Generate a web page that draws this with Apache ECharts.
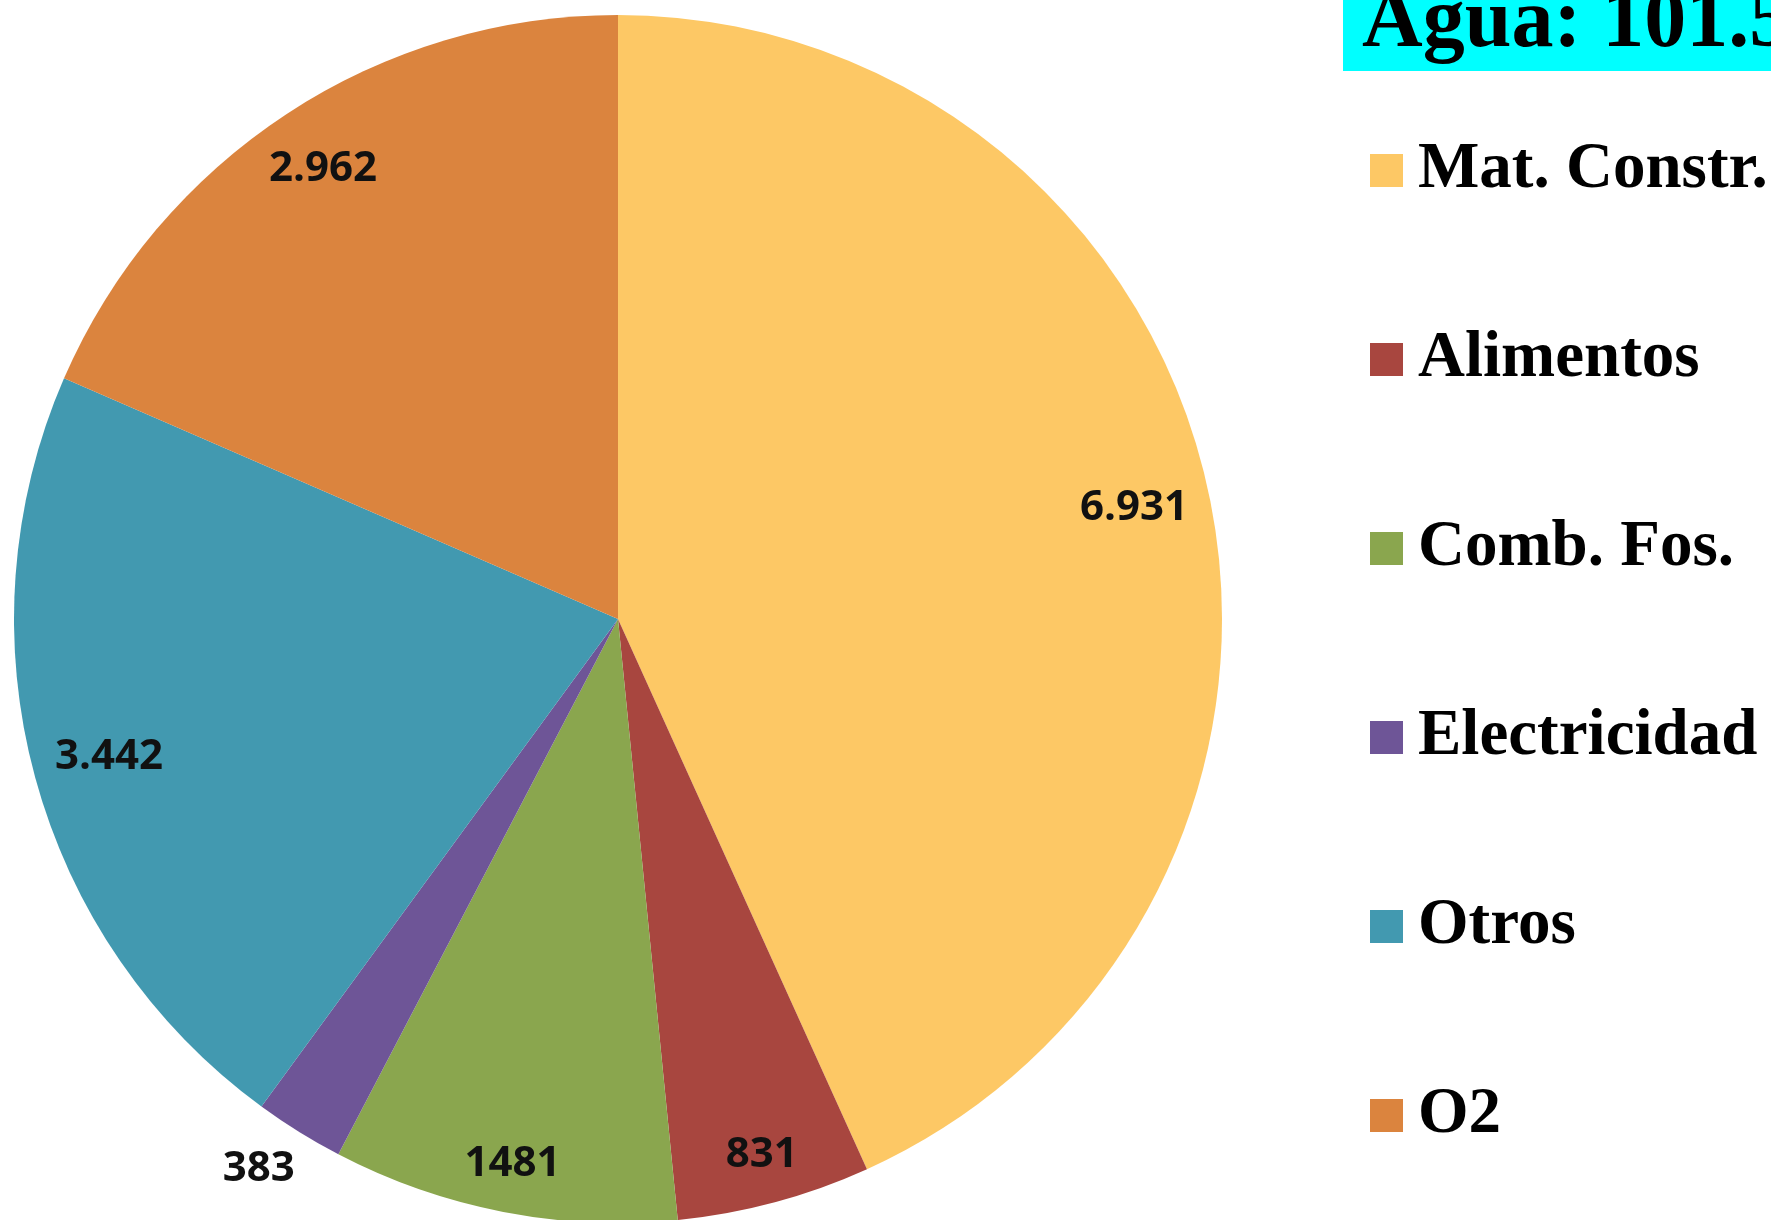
<!DOCTYPE html>
<html>
<head>
<meta charset="utf-8">
<title>Agua</title>
<script src="https://cdn.jsdelivr.net/npm/echarts@6/dist/echarts.min.js"></script>
<style>
  html, body { margin: 0; padding: 0; background: #ffffff; }
  #chart { width: 1771px; height: 1220px; }
</style>
</head>
<body>
<div id="chart"></div>
<script>
// Water consumption breakdown
const titleText = 'Agua: 101.5';
const categories = ['Mat. Constr.', 'Alimentos', 'Comb. Fos.', 'Electricidad', 'Otros', 'O2'];
const values = [6931, 831, 1481, 383, 3442, 2962];
const valueLabels = ['6.931', '831', '1481', '383', '3.442', '2.962'];
const colors = ['#FDC865', '#A8463F', '#8AA64E', '#6E5597', '#4299B0', '#DB843E'];

const CENTER = [618, 619];
const RADIUS = 604;
const EDGE_GAP = 19; // gap between a label box and the rim

const sliceData = categories.map((name, i) => ({
  name,
  value: values[i],
  itemStyle: { color: colors[i] }
}));

// Transparent ring carrying the value labels near the outer edge
const labelData = categories.map((name, i) => {
  const item = { name, value: values[i] };
  if (name === 'Electricidad') {
    item.label = {
      position: 'outside',
      distanceToLabelLine: -19
    };
    item.labelLine = { show: false, length: 44, length2: 0 };
  }
  return item;
});

// Push each inside label outward so its box sits just inside the rim
function insideEndLayout(params) {
  if (categories[params.dataIndex] === 'Electricidad') return {};
  const r = params.labelRect;
  const cx = r.x + r.width / 2;
  const cy = r.y + r.height / 2;
  const vx = cx - CENTER[0];
  const vy = cy - CENTER[1];
  const d = Math.hypot(vx, vy);
  const ux = vx / d, uy = vy / d;
  const support = (r.width / 2) * Math.abs(ux) + (r.height / 2) * Math.abs(uy);
  const target = RADIUS - EDGE_GAP - support;
  return { dx: ux * (target - d), dy: uy * (target - d) };
}

const chart = echarts.init(document.getElementById('chart'), null, { renderer: 'canvas' });

chart.setOption({
  backgroundColor: '#ffffff',
  animation: false,
  title: {
    text: titleText,
    left: 1343,
    top: -18,
    padding: [0, 300, 5, 19],
    backgroundColor: '#00FFFF',
    textStyle: {
      fontFamily: 'Liberation Serif',
      fontWeight: 'bold',
      fontSize: 84,
      lineHeight: 84,
      color: '#000000'
    }
  },
  legend: {
    orient: 'vertical',
    left: 1370,
    top: 138,
    padding: 0,
    icon: 'rect',
    itemWidth: 33,
    itemHeight: 33,
    itemGap: 124,
    selectedMode: false,
    data: categories,
    textStyle: {
      fontFamily: 'Liberation Serif',
      fontWeight: 'bold',
      fontSize: 65,
      lineHeight: 65,
      color: '#000000',
      padding: [0, 0, 0, 10]
    }
  },
  series: [
    {
      name: 'Agua',
      type: 'pie',
      center: CENTER,
      radius: RADIUS,
      startAngle: 90,
      clockwise: true,
      silent: true,
      itemStyle: { borderWidth: 0 },
      label: { show: false },
      labelLine: { show: false },
      emphasis: { disabled: true },
      data: sliceData
    },
    {
      name: 'Etiquetas',
      type: 'pie',
      center: CENTER,
      radius: [476, RADIUS],
      startAngle: 90,
      clockwise: true,
      silent: true,
      legendHoverLink: false,
      avoidLabelOverlap: false,
      itemStyle: { color: 'rgba(0,0,0,0)', borderWidth: 0 },
      emphasis: { disabled: true },
      label: {
        show: true,
        position: 'inside',
        formatter: p => valueLabels[p.dataIndex],
        fontFamily: 'Open Sans',
        fontWeight: 'bold',
        fontSize: 42,
        color: '#111111'
      },
      labelLine: { show: false },
      labelLayout: insideEndLayout,
      data: labelData
    }
  ]
});
</script>
</body>
</html>
